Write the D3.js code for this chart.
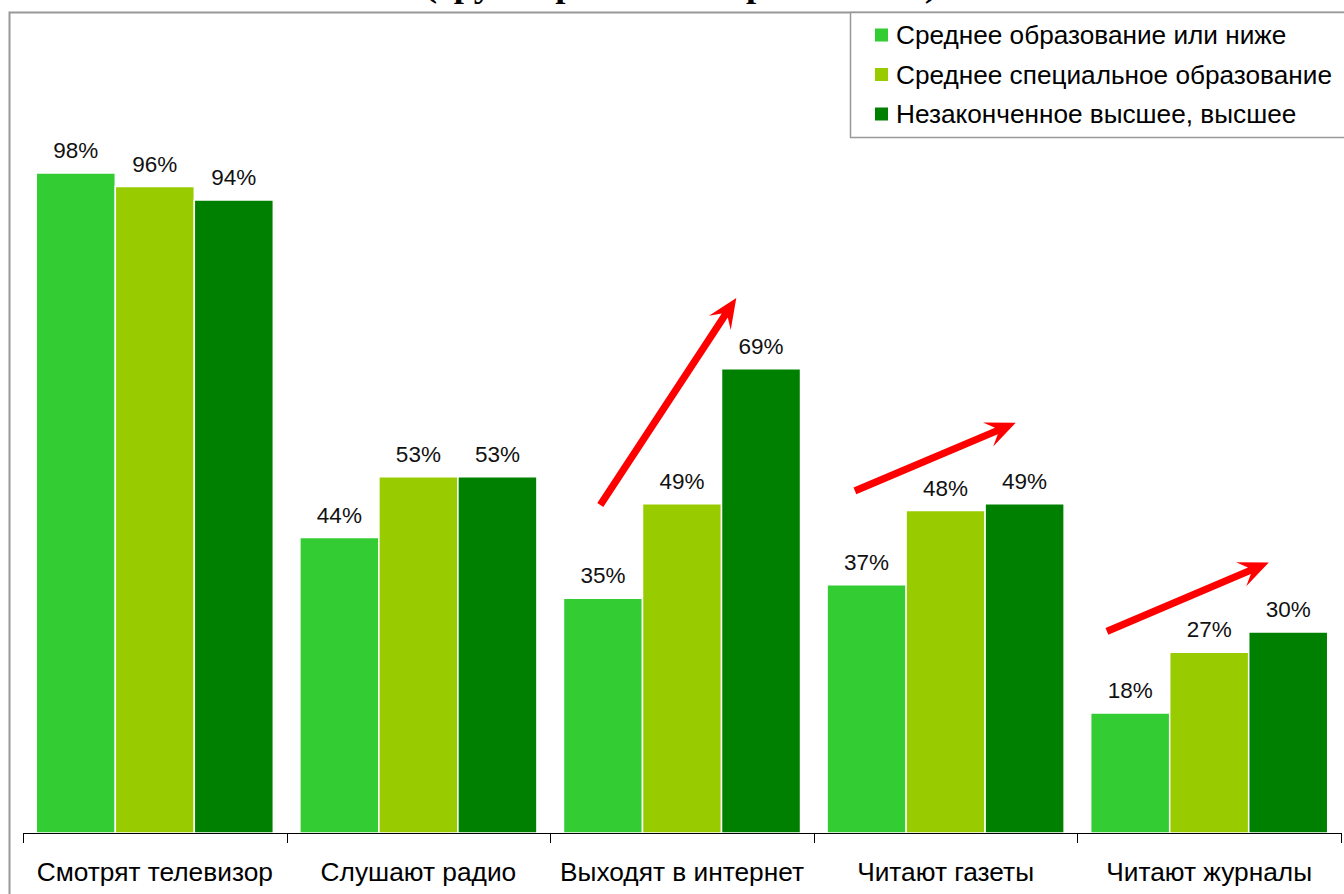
<!DOCTYPE html>
<html>
<head>
<meta charset="utf-8">
<script src="https://cdn.jsdelivr.net/npm/d3@7"></script>
<style>
  html, body { margin: 0; padding: 0; background: #fff; }
  svg { display: block; }
</style>
</head>
<body>
<svg id="chart" width="1344" height="894"></svg>
<script>
// Media habits by education level
const categories = ["Смотрят телевизор", "Слушают радио", "Выходят в интернет", "Читают газеты", "Читают журналы"];
const seriesNames = ["Среднее образование или ниже", "Среднее специальное образование", "Незаконченное высшее, высшее"];
const seriesColors = ["#33CC33", "#99CC00", "#008000"];
const lowEdu = [98, 44, 35, 37, 18];
const midEdu = [96, 53, 49, 48, 27];
const highEdu = [94, 53, 69, 49, 30];
const titleText = "(группировка по образованию)";

// Trend arrows: category index, position within the band (0..1), value in %
const trendArrows = [
  { cat: 2, from: [0.19, 48.8], to: [0.706, 79.5] },
  { cat: 3, from: [0.156, 50.9], to: [0.766, 61] },
  { cat: 4, from: [0.112, 30.1], to: [0.726, 40.3] }
];

const series = [lowEdu, midEdu, highEdu];
const svg = d3.select("#chart");

const x0 = d3.scaleBand().domain(categories).range([23, 1341]).paddingInner(0).paddingOuter(0);
const x1 = d3.scaleBand().domain(d3.range(series.length)).range([0, x0.bandwidth()]).paddingOuter(0.168).paddingInner(0);
const y = d3.scaleLinear().domain([0, 100]).range([834.5, 159.5]);
const axisY = 833;

// Outer frame
svg.append("rect")
  .attr("x", 9.5).attr("y", 12.5).attr("width", 1400).attr("height", 900)
  .attr("fill", "none").attr("stroke", "#999").attr("stroke-width", 2);

// Title (runs above the frame)
svg.append("text")
  .attr("x", 425).attr("y", -3.5)
  .attr("font-family", "'Liberation Serif', 'Times New Roman', serif")
  .attr("font-weight", "bold").attr("font-size", 32)
  .attr("textLength", 512).attr("lengthAdjust", "spacingAndGlyphs")
  .text(titleText);

// Bars
const groups = svg.append("g").selectAll("g")
  .data(categories).join("g")
  .attr("transform", d => `translate(${x0(d)},0)`);

groups.selectAll("rect")
  .data((d, i) => series.map((s, k) => ({ k, v: s[i] })))
  .join("rect")
  .attr("x", d => x1(d.k))
  .attr("y", d => y(d.v))
  .attr("width", x1.bandwidth())
  .attr("height", d => axisY - y(d.v))
  .attr("fill", d => seriesColors[d.k])
  .attr("stroke", "#fff").attr("stroke-width", 1.5);

groups.selectAll("text")
  .data((d, i) => series.map((s, k) => ({ k, v: s[i] })))
  .join("text")
  .attr("x", d => x1(d.k) + x1.bandwidth() / 2)
  .attr("y", d => y(d.v) - 15)
  .attr("text-anchor", "middle")
  .attr("font-family", "Arial, 'Liberation Sans', sans-serif")
  .attr("font-size", 22.5)
  .attr("fill", "#111")
  .text(d => d.v + "%");

// Category axis with boundary ticks
const axisG = svg.append("g");
axisG.append("line")
  .attr("x1", x0.range()[0]).attr("x2", x0.range()[1])
  .attr("y1", axisY + 0.5).attr("y2", axisY + 0.5)
  .attr("stroke", "#000").attr("stroke-width", 1.2);
const bounds = categories.map(c => x0(c)).concat([x0.range()[1]]);
axisG.selectAll("line.tick").data(bounds).join("line")
  .attr("class", "tick")
  .attr("x1", d => Math.round(d) + 0.5).attr("x2", d => Math.round(d) + 0.5)
  .attr("y1", axisY).attr("y2", axisY + 10)
  .attr("stroke", "#000");
axisG.selectAll("text").data(categories).join("text")
  .attr("x", d => x0(d) + x0.bandwidth() / 2)
  .attr("y", 881)
  .attr("text-anchor", "middle")
  .attr("font-family", "Arial, 'Liberation Sans', sans-serif")
  .attr("font-size", 26.3)
  .attr("fill", "#000")
  .text(d => d);

// Trend arrows
function arrowPath(x1p, y1p, x2p, y2p) {
  const dx = x2p - x1p, dy = y2p - y1p;
  const len = Math.hypot(dx, dy);
  const ux = dx / len, uy = dy / len, nx = -uy, ny = ux;
  const hl = 30, hw = 13, notch = 9, sw = 3.6;
  const bx = x2p - ux * hl, by = y2p - uy * hl;
  const nxp = x2p - ux * (hl - notch), nyp = y2p - uy * (hl - notch);
  const pts = [
    [x1p + nx * sw, y1p + ny * sw],
    [nxp + nx * sw, nyp + ny * sw],
    [bx + nx * hw, by + ny * hw],
    [x2p, y2p],
    [bx - nx * hw, by - ny * hw],
    [nxp - nx * sw, nyp - ny * sw],
    [x1p - nx * sw, y1p - ny * sw]
  ];
  return "M" + pts.map(p => p.join(",")).join("L") + "Z";
}
svg.append("g").selectAll("path")
  .data(trendArrows).join("path")
  .attr("d", a => {
    const c = categories[a.cat];
    const bx = x0(c), bw = x0.bandwidth();
    return arrowPath(bx + a.from[0] * bw, y(a.from[1]), bx + a.to[0] * bw, y(a.to[1]));
  })
  .attr("fill", "#FF0000");

// Legend
const legend = svg.append("g");
legend.append("rect")
  .attr("x", 850.5).attr("y", 12.5).attr("width", 520).attr("height", 125)
  .attr("fill", "#fff").attr("stroke", "#999").attr("stroke-width", 1.5);
const items = legend.selectAll("g.item").data(seriesNames).join("g")
  .attr("class", "item")
  .attr("transform", (d, i) => `translate(875, ${35 + i * 39.5})`);
items.append("rect")
  .attr("x", 0).attr("y", -6.5).attr("width", 13).attr("height", 13)
  .attr("fill", (d, i) => seriesColors[i]);
items.append("text")
  .attr("x", 21).attr("y", 9)
  .attr("font-family", "Arial, 'Liberation Sans', sans-serif")
  .attr("font-size", 26.2)
  .attr("fill", "#000")
  .text(d => d);
</script>
</body>
</html>
